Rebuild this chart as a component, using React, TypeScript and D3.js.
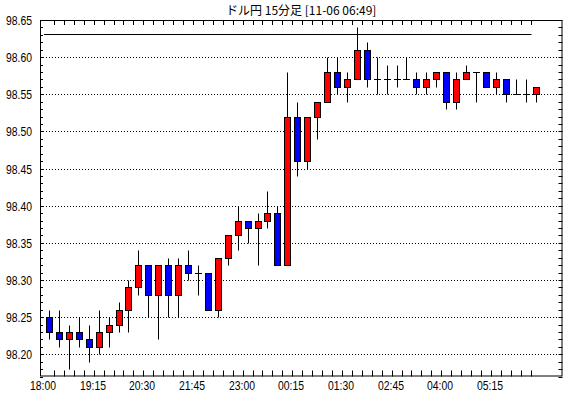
import React, { useRef, useEffect } from "react";
import { select, scaleLinear, scaleBand, range } from "d3";

const title = "ドル円 15分足 [11-06 06:49]";

const open = [
  98.25, 98.23, 98.22, 98.23, 98.22, 98.21, 98.23, 98.24, 98.26, 98.29,
  98.32, 98.28, 98.32, 98.28, 98.32, 98.31, 98.31, 98.26, 98.33, 98.36,
  98.38, 98.37, 98.38, 98.39, 98.32, 98.52, 98.46, 98.52, 98.54, 98.58,
  98.56, 98.57, 98.61, 98.57, 98.57, 98.57, 98.57, 98.57, 98.56, 98.57,
  98.58, 98.54, 98.57, 98.58, 98.58, 98.56, 98.57, 98.55, 98.55, 98.55,
];
const high = [
  98.26, 98.26, 98.24, 98.25, 98.24, 98.26, 98.25, 98.27, 98.3, 98.34,
  98.32, 98.32, 98.33, 98.33, 98.34, 98.32, 98.31, 98.33, 98.36, 98.4,
  98.38, 98.39, 98.42, 98.4, 98.58, 98.54, 98.52, 98.54, 98.6, 98.6,
  98.58, 98.64, 98.62, 98.6, 98.59, 98.59, 98.6, 98.58, 98.58, 98.58,
  98.58, 98.58, 98.59, 98.58, 98.58, 98.58, 98.57, 98.57, 98.57, 98.56,
];
const low = [
  98.22, 98.21, 98.18, 98.21, 98.19, 98.2, 98.21, 98.23, 98.23, 98.28,
  98.25, 98.22, 98.25, 98.25, 98.3, 98.28, 98.26, 98.25, 98.32, 98.34,
  98.35, 98.32, 98.37, 98.32, 98.32, 98.44, 98.45, 98.49, 98.54, 98.55,
  98.54, 98.57, 98.56, 98.55, 98.55, 98.56, 98.57, 98.55, 98.55, 98.56,
  98.53, 98.53, 98.57, 98.54, 98.56, 98.55, 98.54, 98.55, 98.54, 98.54,
];
const close = [
  98.23, 98.22, 98.23, 98.22, 98.21, 98.23, 98.24, 98.26, 98.29, 98.32,
  98.28, 98.32, 98.28, 98.32, 98.31, 98.31, 98.26, 98.33, 98.36, 98.38,
  98.37, 98.38, 98.39, 98.32, 98.52, 98.46, 98.52, 98.54, 98.58, 98.56,
  98.57, 98.61, 98.57, 98.57, 98.57, 98.57, 98.57, 98.56, 98.57, 98.58,
  98.54, 98.57, 98.58, 98.58, 98.56, 98.57, 98.55, 98.55, 98.55, 98.56,
];

const timeLabels = [
  "18:00", "19:15", "20:30", "21:45", "23:00",
  "00:15", "01:30", "02:45", "04:00", "05:15",
];
const labelEvery = 5;

const yLabels = [98.2, 98.25, 98.3, 98.35, 98.4, 98.45, 98.5, 98.55, 98.6, 98.65];
const refLine = 98.631;

const W = 570;
const H = 398;
const left = 40;
const right = 562.5;
const top = 20;
const bottom = 376.5;

const font = "'Liberation Sans', Arial, sans-serif";

export default function App() {
  const ref = useRef<SVGSVGElement>(null);

  useEffect(() => {
    const svg = select(ref.current);
    svg.selectAll("*").remove();

    const n = open.length;
    const x = scaleBand<number>()
      .domain(range(n))
      .range([44.03, 540.53]);
    const cx = (i: number) => Math.round((x(i) ?? 0) + x.bandwidth() / 2);
    const y = scaleLinear().domain([98.17, 98.65]).range([bottom, top]);
    const py = (v: number) => Math.round(y(v)) + 0.5;

    svg.append("rect").attr("width", W).attr("height", H).attr("fill", "#fff");

    // title
    svg
      .append("text")
      .attr("x", (left + right) / 2)
      .attr("y", 15)
      .attr("text-anchor", "middle")
      .attr("font-family", "'Noto Sans CJK JP', sans-serif")
      .attr("font-size", 12)
      .text(title);

    // grid
    const g = svg.append("g");
    g.selectAll("line.grid")
      .data(yLabels.filter((v) => v < 98.64))
      .enter()
      .append("line")
      .attr("x1", left)
      .attr("x2", right)
      .attr("y1", (d) => py(d))
      .attr("y2", (d) => py(d))
      .attr("stroke", "#000")
      .attr("stroke-dasharray", "1,2");

    // y minor ticks (every 0.01)
    const minor = range(98.17, 98.655, 0.01).map((v) => Math.round(v * 100) / 100);
    g.selectAll("line.yt")
      .data(minor)
      .enter()
      .append("line")
      .attr("x1", left)
      .attr("x2", left + 3)
      .attr("y1", (d) => py(d))
      .attr("y2", (d) => py(d))
      .attr("stroke", "#000");
    g.selectAll("line.yt2")
      .data(minor)
      .enter()
      .append("line")
      .attr("x1", right - 4)
      .attr("x2", right)
      .attr("y1", (d) => py(d))
      .attr("y2", (d) => py(d))
      .attr("stroke", "#000");

    // y labels
    g.selectAll("text.yl")
      .data(yLabels)
      .enter()
      .append("text")
      .attr("x", 6)
      .attr("y", (d) => y(d) + 5)
      .attr("font-family", font)
      .attr("font-size", 13)
      .attr("textLength", 26)
      .attr("lengthAdjust", "spacingAndGlyphs")
      .text((d) => d.toFixed(2));

    // x ticks at bar boundaries
    const bounds = range(1, n).map((i) => Math.round(x(i) ?? 0) + 0.5);
    g.selectAll("line.xt")
      .data(bounds)
      .enter()
      .append("line")
      .attr("x1", (d) => d)
      .attr("x2", (d) => d)
      .attr("y1", bottom - 6)
      .attr("y2", bottom)
      .attr("stroke", "#000");
    g.selectAll("line.xt2")
      .data(bounds)
      .enter()
      .append("line")
      .attr("x1", (d) => d)
      .attr("x2", (d) => d)
      .attr("y1", top)
      .attr("y2", top + 5)
      .attr("stroke", "#000");

    // x labels
    g.selectAll("text.xl")
      .data(timeLabels)
      .enter()
      .append("text")
      .attr("x", (_, k) => cx(k * labelEvery) - 6)
      .attr("y", 390)
      .attr("text-anchor", "middle")
      .attr("font-family", font)
      .attr("font-size", 13)
      .attr("textLength", 26)
      .attr("lengthAdjust", "spacingAndGlyphs")
      .text((d) => d);

    // frame
    svg
      .append("rect")
      .attr("x", left + 0.5)
      .attr("y", top + 0.5)
      .attr("width", right - left - 1)
      .attr("height", bottom - top - 1)
      .attr("fill", "none")
      .attr("stroke", "#000");

    // reference line
    svg
      .append("line")
      .attr("x1", Math.round(x(0) ?? 0))
      .attr("x2", bounds[bounds.length - 1])
      .attr("y1", py(refLine))
      .attr("y2", py(refLine))
      .attr("stroke", "#000");

    // candles
    const idx = range(n);
    const c = svg.append("g");
    c.selectAll("line.wick")
      .data(idx)
      .enter()
      .append("line")
      .attr("x1", (i) => cx(i) + 0.5)
      .attr("x2", (i) => cx(i) + 0.5)
      .attr("y1", (i) => py(high[i]))
      .attr("y2", (i) => py(low[i]))
      .attr("stroke", "#000");

    c.selectAll("rect.body")
      .data(idx.filter((i) => open[i] !== close[i]))
      .enter()
      .append("rect")
      .attr("x", (i) => cx(i) - 2.5)
      .attr("width", 6)
      .attr("y", (i) => py(Math.max(open[i], close[i])))
      .attr("height", (i) => py(Math.min(open[i], close[i])) - py(Math.max(open[i], close[i])))
      .attr("fill", (i) => (close[i] > open[i] ? "#ff0000" : "#0000ff"))
      .attr("stroke", "#000");

    c.selectAll("line.doji")
      .data(idx.filter((i) => open[i] === close[i]))
      .enter()
      .append("line")
      .attr("x1", (i) => cx(i) - 3)
      .attr("x2", (i) => cx(i) + 4)
      .attr("y1", (i) => py(open[i]))
      .attr("y2", (i) => py(open[i]))
      .attr("stroke", "#000");
  }, []);

  return (
    <svg
      ref={ref}
      width={W}
      height={H}
      style={{ position: "absolute", left: 0, top: 0, display: "block" }}
    />
  );
}
